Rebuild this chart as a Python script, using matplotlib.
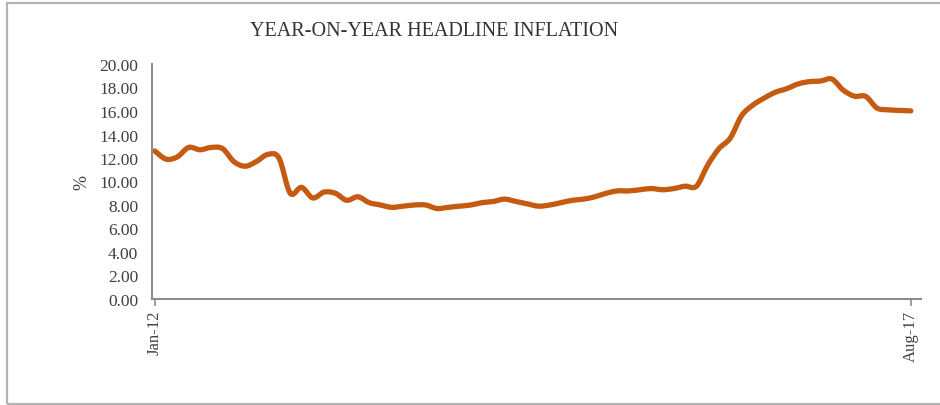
import matplotlib
matplotlib.use("Agg")
import matplotlib.pyplot as plt
from matplotlib.patches import PathPatch, Rectangle
from matplotlib.path import Path

# Monthly year-on-year headline inflation, Jan 2012 .. Aug 2017 (%)
months = list(range(68))
inflation = [
    12.6, 11.9, 12.1, 12.9, 12.7, 12.9, 12.8, 11.7, 11.3, 11.7, 12.3, 12.0,  # 2012
    9.0, 9.5, 8.6, 9.1, 9.0, 8.4, 8.7, 8.2, 8.0, 7.8, 7.9, 8.0,             # 2013
    8.0, 7.7, 7.8, 7.9, 8.0, 8.2, 8.3, 8.5, 8.3, 8.1, 7.9, 8.0,             # 2014
    8.2, 8.4, 8.5, 8.7, 9.0, 9.2, 9.2, 9.3, 9.4, 9.3, 9.4, 9.6,             # 2015
    9.6, 11.4, 12.8, 13.7, 15.6, 16.5, 17.1, 17.6, 17.9, 18.3, 18.5, 18.55, # 2016
    18.72, 17.78, 17.26, 17.24, 16.25, 16.1, 16.05, 16.01,                  # 2017
]
tick_pos = [0, 67]
tick_labels = ["Jan-12", "Aug-17"]
y_ticks = [0, 2, 4, 6, 8, 10, 12, 14, 16, 18, 20]

TEXT = "#404040"
SPINE = "#8c8c8c"
LINE = "#C55A11"


def smooth_path(xs, ys):
    # Excel-style "smoothed line": cubic Bezier segments through every point
    verts = [(xs[0], ys[0])]
    codes = [Path.MOVETO]
    n = len(xs)
    for i in range(n - 1):
        x0, y0 = xs[max(i - 1, 0)], ys[max(i - 1, 0)]
        x1, y1 = xs[i], ys[i]
        x2, y2 = xs[i + 1], ys[i + 1]
        x3, y3 = xs[min(i + 2, n - 1)], ys[min(i + 2, n - 1)]
        verts += [(x1 + (x2 - x0) / 6, y1 + (y2 - y0) / 6),
                  (x2 - (x3 - x1) / 6, y2 - (y3 - y1) / 6),
                  (x2, y2)]
        codes += [Path.CURVE4] * 3
    return Path(verts, codes)


plt.rcParams["font.family"] = ["Liberation Serif", "DejaVu Serif"]

fig = plt.figure(figsize=(9.4, 4.06), dpi=100)
fig.patches.append(Rectangle((7 / 940, 1 / 406), 1.0, 401 / 406, transform=fig.transFigure,
                             fill=False, edgecolor="#b4b4b4", lw=1.6))

ax = fig.add_axes([152 / 940, 1 - 300 / 406, (921 - 152) / 940, (300 - 65) / 406])
ax.add_patch(PathPatch(smooth_path(months, inflation), fill=False, edgecolor=LINE,
                       lw=3.8, joinstyle="round", capstyle="round"))

ax.set_xlim(-0.25, 67.9)
ax.set_ylim(0, 20)
ax.set_yticks(y_ticks, [f"{v:.2f}" for v in y_ticks])
ax.set_xticks(tick_pos, tick_labels, rotation=90)
ax.tick_params(axis="y", length=0, pad=10, labelsize=12.5, labelcolor=TEXT)
ax.tick_params(axis="x", length=5, width=1.2, color=SPINE, pad=3,
               labelsize=12, labelcolor=TEXT)
for lbl in ax.get_xticklabels():
    lbl.set_x(lbl.get_position()[0])
for s in ("top", "right"):
    ax.spines[s].set_visible(False)
for s in ("left", "bottom"):
    ax.spines[s].set_color(SPINE)
    ax.spines[s].set_linewidth(1.5)

ax.set_ylabel("%", fontsize=13, color=TEXT, labelpad=6)
fig.text(434 / 940, 1 - 31 / 406, "YEAR-ON-YEAR HEADLINE INFLATION",
         ha="center", va="center", fontsize=14.5, color="#333333")

fig.savefig("out.png", dpi=100)
